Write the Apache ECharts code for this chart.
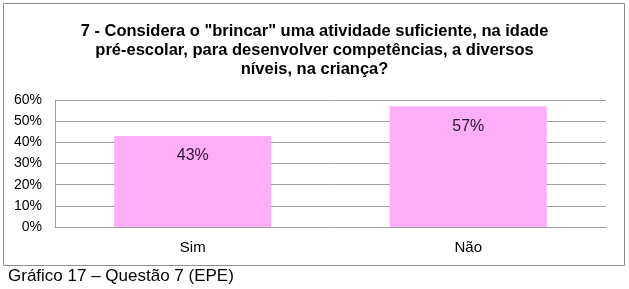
<!DOCTYPE html>
<html>
<head>
<meta charset="utf-8">
<script src="https://cdn.jsdelivr.net/npm/echarts@6/dist/echarts.min.js"></script>
<style>
html, body { margin: 0; padding: 0; background: #fff; }
#chart { width: 629px; height: 289px; }
</style>
</head>
<body>
<div id="chart"></div>
<script>
var categories = ['Sim', 'Não'];
var percentValues = [43, 57];
var tickLabels = ['0%', '10%', '20%', '30%', '40%', '50%', '60%'];

var chart = echarts.init(document.getElementById('chart'));

var option = {
    animation: false,
    backgroundColor: '#fff',
    title: {
        text: '7 - Considera o "brincar" uma atividade suficiente, na idade\npré-escolar, para desenvolver competências, a diversos\nníveis, na criança?',
        left: 'center',
        top: 17,
        textStyle: {
            fontFamily: 'Liberation Sans',
            fontSize: 16.5,
            fontWeight: 'bold',
            color: '#000',
            lineHeight: 19
        }
    },
    graphic: [
        {
            type: 'rect',
            shape: { x: 3.5, y: 3.5, width: 621, height: 262 },
            style: { fill: 'none', stroke: '#8c8c8c', lineWidth: 1 },
            z: -1
        },
        {
            type: 'text',
            left: 8,
            top: 268,
            style: {
                text: 'Gráfico 17 – Questão 7 (EPE)',
                font: '17px "Liberation Sans"',
                fill: '#000'
            }
        }
    ],
    grid: {
        left: 55,
        right: 23,
        top: 100,
        bottom: 62
    },
    xAxis: {
        type: 'category',
        data: categories,
        axisTick: { show: false },
        axisLine: { lineStyle: { color: '#a0a0a0' } },
        axisLabel: {
            fontFamily: 'Liberation Sans',
            fontSize: 15,
            color: '#000',
            margin: 13
        }
    },
    yAxis: {
        type: 'value',
        min: 0,
        max: 60,
        interval: 10,
        axisLine: { show: true, lineStyle: { color: '#a0a0a0' } },
        axisTick: { show: false },
        splitLine: { lineStyle: { color: '#a0a0a0', width: 1 } },
        axisLabel: {
            fontFamily: 'Liberation Sans',
            fontSize: 14,
            color: '#000',
            margin: 13,
            formatter: function (v) { return tickLabels[v / 10]; }
        }
    },
    series: [
        {
            name: 'Percentagem',
            type: 'bar',
            barWidth: '57%',
            data: percentValues,
            itemStyle: { color: '#fdaef6' },
            label: {
                show: true,
                position: 'insideTop',
                distance: 12,
                fontFamily: 'Liberation Sans',
                fontSize: 16,
                color: '#2a1530',
                formatter: '{c}%'
            }
        }
    ]
};

chart.setOption(option);
</script>
</body>
</html>
